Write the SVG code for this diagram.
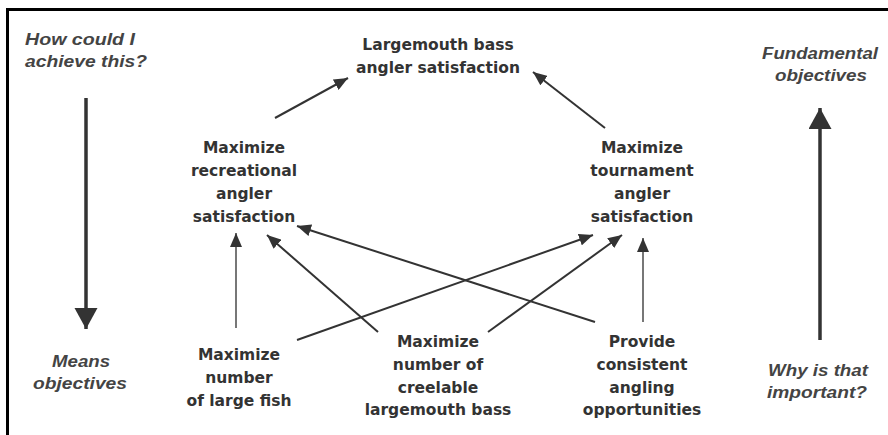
<svg xmlns="http://www.w3.org/2000/svg" width="888" height="435" viewBox="0 0 888 435">
<style>
.node{font-family:"DejaVu Sans",Verdana,sans-serif;font-weight:bold;font-size:15.5px;fill:#333;text-anchor:middle}
.side{font-family:"Liberation Sans",Arial,sans-serif;font-weight:bold;font-style:italic;font-size:16px;fill:#444}
.conn{stroke:#333;stroke-width:2;fill:none}
.vert{stroke:#777;stroke-width:2;fill:none}
.big{stroke:#333;stroke-width:3.5;fill:none}
</style>
<defs>
<marker id="ah" markerUnits="userSpaceOnUse" markerWidth="16" markerHeight="12" refX="14" refY="6" orient="auto"><path d="M0,0 L14,6 L0,12 z" fill="#333"/></marker>
<marker id="ahb" markerUnits="userSpaceOnUse" markerWidth="22" markerHeight="24" refX="21" refY="11.5" orient="auto"><path d="M0,0 L21,11.5 L0,23 z" fill="#333"/></marker>
</defs>
<rect width="888" height="435" fill="#fff"/>
<path d="M7.5,435 V9.5 H888" stroke="#000" stroke-width="3" fill="none"/>

<g id="side-labels">
<text class="side" x="25" y="45" textLength="110" lengthAdjust="spacingAndGlyphs">How could I</text>
<text class="side" x="25" y="67" textLength="122" lengthAdjust="spacingAndGlyphs">achieve this?</text>
<text class="side" x="762" y="59" textLength="116" lengthAdjust="spacingAndGlyphs">Fundamental</text>
<text class="side" x="775" y="81" textLength="92" lengthAdjust="spacingAndGlyphs">objectives</text>
<text class="side" x="52" y="367" textLength="58" lengthAdjust="spacingAndGlyphs">Means</text>
<text class="side" x="33" y="389" textLength="94" lengthAdjust="spacingAndGlyphs">objectives</text>
<text class="side" x="768" y="376" textLength="100" lengthAdjust="spacingAndGlyphs">Why is that</text>
<text class="side" x="767" y="398" textLength="100" lengthAdjust="spacingAndGlyphs">important?</text>
</g>

<g id="n-top">
<text class="node" x="438" y="50">Largemouth bass</text>
<text class="node" x="438" y="73">angler satisfaction</text>
</g>
<g id="n-recreational">
<text class="node" x="244" y="153">Maximize</text>
<text class="node" x="244" y="176">recreational</text>
<text class="node" x="244" y="199">angler</text>
<text class="node" x="244" y="222">satisfaction</text>
</g>
<g id="n-tournament">
<text class="node" x="642" y="153">Maximize</text>
<text class="node" x="642" y="176">tournament</text>
<text class="node" x="642" y="199">angler</text>
<text class="node" x="642" y="222">satisfaction</text>
</g>
<g id="n-largefish">
<text class="node" x="239" y="360">Maximize</text>
<text class="node" x="239" y="383">number</text>
<text class="node" x="239" y="406">of large fish</text>
</g>
<g id="n-creelable">
<text class="node" x="438" y="347">Maximize</text>
<text class="node" x="438" y="370">number of</text>
<text class="node" x="438" y="393">creelable</text>
<text class="node" x="438" y="415">largemouth bass</text>
</g>
<g id="n-provide">
<text class="node" x="642" y="347">Provide</text>
<text class="node" x="642" y="370">consistent</text>
<text class="node" x="642" y="393">angling</text>
<text class="node" x="642" y="415">opportunities</text>
</g>

<g id="connectors">
<line class="conn" x1="275" y1="118" x2="348" y2="78" marker-end="url(#ah)"/>
<line class="conn" x1="605" y1="128" x2="533" y2="72" marker-end="url(#ah)"/>
<line class="vert" x1="236" y1="328" x2="236" y2="233" marker-end="url(#ah)"/>
<line class="vert" x1="643" y1="322" x2="643" y2="238" marker-end="url(#ah)"/>
<line class="conn" x1="378" y1="332" x2="267" y2="235" marker-end="url(#ah)"/>
<line class="conn" x1="595" y1="322" x2="297" y2="226" marker-end="url(#ah)"/>
<line class="conn" x1="297" y1="340" x2="593" y2="235" marker-end="url(#ah)"/>
<line class="conn" x1="488" y1="332" x2="622" y2="235" marker-end="url(#ah)"/>
<line class="big" x1="86" y1="98" x2="86" y2="329" marker-end="url(#ahb)"/>
<line class="big" x1="820" y1="340" x2="820" y2="108" marker-end="url(#ahb)"/>
</g>
</svg>
